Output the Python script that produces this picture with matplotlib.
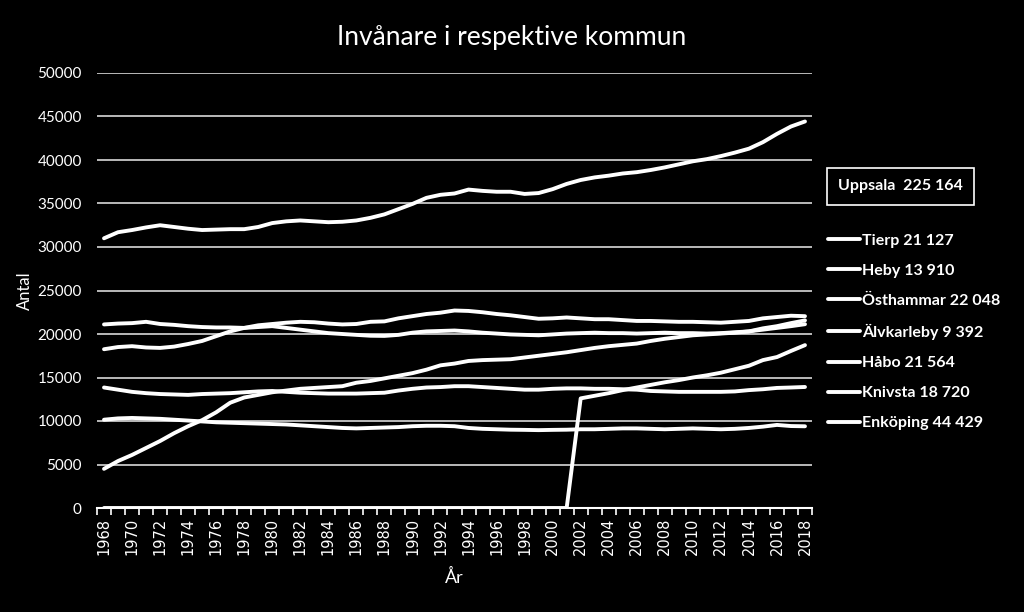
import numpy as np
import matplotlib
matplotlib.use("Agg")
import matplotlib.pyplot as plt

# population per kommun, 1968-2018
years = list(range(1968, 2019))

enkoping = [31000, 31700, 31950, 32250, 32500, 32300, 32100, 31950, 32000, 32050,
            32050, 32300, 32750, 32950, 33050, 32950, 32850, 32900, 33050, 33350,
            33750, 34350, 34950, 35650, 36000, 36150, 36600, 36450, 36350, 36350,
            36100, 36200, 36650, 37250, 37700, 38000, 38200, 38450, 38600, 38850,
            39150, 39500, 39850, 40100, 40450, 40850, 41300, 42050, 43000, 43850,
            44429]
osthammar = [18250, 18500, 18600, 18450, 18400, 18550, 18850, 19200, 19750, 20300,
             20700, 21000, 21150, 21300, 21400, 21350, 21200, 21100, 21150, 21400,
             21450, 21800, 22050, 22300, 22450, 22700, 22650, 22500, 22300, 22150,
             21950, 21750, 21800, 21900, 21800, 21700, 21700, 21600, 21500, 21500,
             21450, 21400, 21400, 21350, 21300, 21400, 21500, 21800, 21950, 22100,
             22048]
tierp = [21100, 21200, 21250, 21400, 21150, 21050, 20900, 20800, 20750, 20750,
         20700, 20800, 20900, 20700, 20500, 20300, 20100, 20000, 19900, 19800,
         19780, 19900, 20150, 20300, 20350, 20400, 20300, 20150, 20050, 19950,
         19900, 19850, 19950, 20050, 20100, 20150, 20100, 20100, 20050, 20100,
         20150, 20100, 20100, 20050, 20100, 20200, 20300, 20500, 20700, 20900,
         21127]
habo = [4500, 5400, 6100, 6900, 7700, 8600, 9400, 10100, 11000, 12100,
        12700, 13000, 13300, 13500, 13700, 13800, 13900, 14000, 14400, 14600,
        14900, 15200, 15500, 15900, 16400, 16600, 16900, 17000, 17050, 17100,
        17300, 17500, 17700, 17900, 18150, 18400, 18600, 18750, 18900, 19200,
        19450, 19650, 19850, 19950, 20050, 20150, 20300, 20650, 20900, 21250,
        21564]
heby = [13850, 13600, 13350, 13200, 13100, 13050, 13000, 13100, 13150, 13200,
        13300, 13400, 13450, 13350, 13250, 13200, 13150, 13150, 13150, 13200,
        13250, 13500, 13700, 13850, 13900, 14000, 14000, 13900, 13800, 13700,
        13600, 13600, 13700, 13750, 13750, 13700, 13700, 13650, 13600, 13450,
        13400, 13350, 13350, 13350, 13350, 13400, 13550, 13650, 13800, 13850,
        13910]
alvkarleby = [10150, 10300, 10350, 10300, 10250, 10150, 10050, 9950, 9850, 9800,
              9750, 9700, 9650, 9600, 9500, 9400, 9300, 9200, 9150, 9200,
              9250, 9300, 9400, 9450, 9450, 9400, 9200, 9100, 9050, 9000,
              8980, 8950, 8980, 9000, 9050, 9050, 9100, 9150, 9150, 9100,
              9050, 9100, 9150, 9100, 9050, 9100, 9200, 9350, 9550, 9420,
              9392]
knivsta = [0] * 34 + [12600, 12900, 13200, 13550, 13850, 14150, 14450, 14700,
                      15000, 15250, 15550, 15950, 16350, 17000, 17350, 18050,
                      18720]

series = [("Tierp", tierp), ("Heby", heby), ("Östhammar", osthammar),
          ("Älvkarleby", alvkarleby), ("Håbo", habo), ("Knivsta", knivsta),
          ("Enköping", enkoping)]
uppsala_2018 = 225164

def fmt(v):
    return f"{v:,}".replace(",", " ")

plt.rcParams['font.family'] = ['Lato', 'DejaVu Sans']

fig = plt.figure(figsize=(10.24, 6.12), dpi=100, facecolor="black")
ax = fig.add_axes([97/1024, 1-508/612, (812-97)/1024, (508-73)/612])
ax.set_facecolor("black")

for name, vals in series:
    ax.plot(years, vals, color="white", lw=2.8, solid_capstyle="round",
            label=f"{name} {fmt(vals[-1])}")

ax.set_xlim(1967.5, 2018.5)
ax.set_ylim(0, 50000)
ax.set_yticks(range(0, 50001, 5000))
ax.grid(axis="y", color="#d9d9d9", lw=1.2)
ax.set_axisbelow(True)
ax.tick_params(axis="y", length=0, colors="white", labelsize=11, pad=11)

ax.set_xticks(years[::2])
ax.set_xticklabels([str(y) for y in years[::2]], rotation=90,
                   fontfamily="DejaVu Sans", fontsize=10.5)
ax.set_xticks(np.arange(1967.5, 2019, 1), minor=True)
ax.tick_params(axis="x", which="major", length=0, colors="white", pad=7)
ax.tick_params(axis="x", which="minor", length=5, color="white", width=1.2)

for s in ["top", "right", "left"]:
    ax.spines[s].set_visible(False)
ax.spines["bottom"].set_color("white")
ax.spines["bottom"].set_linewidth(1.5)

ax.set_xlabel("År", color="white", fontsize=13, labelpad=10)
ax.set_ylabel("Antal", color="white", fontsize=12, labelpad=3)
fig.text(0.5, 1-38/612, "Invånare i respektive kommun", color="white",
         fontsize=19, ha="center", va="center")

fig.text(838/1024, 1-186/612, f"Uppsala  {fmt(uppsala_2018)}", color="white",
         fontsize=11.5, fontweight="bold", va="center", ha="left",
         bbox=dict(boxstyle="square,pad=0.72", fc="black", ec="white", lw=1.2))

leg = ax.legend(loc="upper left", bbox_to_anchor=(814/1024, 1-219/612),
                bbox_transform=fig.transFigure, frameon=False,
                handlelength=2.0, handletextpad=0.1, labelspacing=1.0,
                prop={"weight": "bold", "size": 11.5})
for t in leg.get_texts():
    t.set_color("white")

fig.savefig("out.png", dpi=100, facecolor="black")
